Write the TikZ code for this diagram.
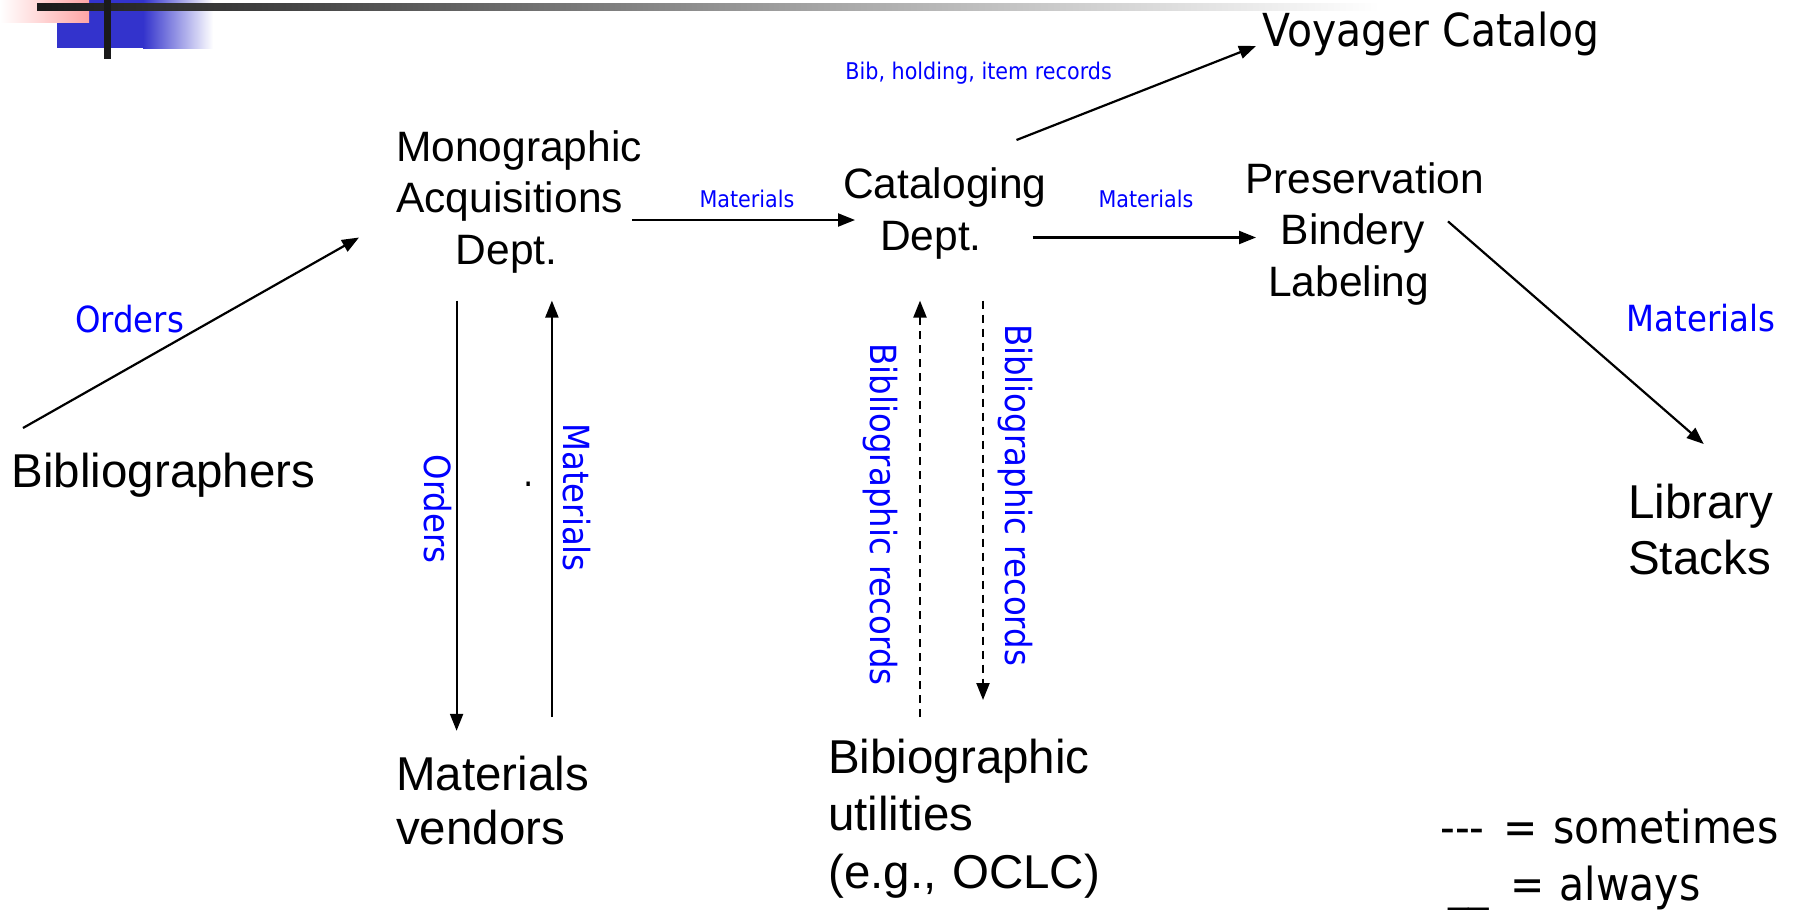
\documentclass[tikz,border=0pt]{standalone}
\usepackage{fontspec}
\setmainfont{Liberation Sans}
\newfontfamily\tah[FakeStretch=0.9]{DejaVu Sans}
\usetikzlibrary{arrows.meta}
\definecolor{lblue}{RGB}{0,0,255}
\definecolor{barblue}{RGB}{51,51,204}
\definecolor{pinkc}{RGB}{255,165,165}
\definecolor{bardark}{RGB}{26,26,26}
\definecolor{barmid}{RGB}{70,70,70}
\definecolor{barlight}{RGB}{165,165,165}
\tikzset{
  big/.style={font=\fontsize{42.5}{51.6}\selectfont, inner sep=0pt, align=left},
  bigger/.style={font=\fontsize{47.5}{56}\selectfont, inner sep=0pt, align=left},
  tahbig/.style={font=\tah\fontsize{45.5}{57}\selectfont, inner sep=0pt},
  lbl/.style={text=lblue, font=\tah\fontsize{36}{40}\selectfont, inner sep=0pt},
  slbl/.style={text=lblue, font=\tah\fontsize{23}{26}\selectfont, inner sep=0pt},
  arr/.style={line width=2.2pt, -{Triangle[length=17pt,width=13pt]}},
  dsh/.style={arr, dash pattern=on 8pt off 6pt}
}
\begin{document}
\begin{tikzpicture}[x=1pt,y=-1pt]
\useasboundingbox (0,0) rectangle (1799,910);
% top-left decoration
\fill[barblue] (57,0) rectangle (143,48);
\shade[left color=barblue, right color=white] (143,0) rectangle (213,48);
\shade[left color=white, right color=pinkc] (0,0) rectangle (89,22);
\shade[left color=bardark, right color=barmid] (37,3) rectangle (300,10);
\shade[left color=barmid, right color=barlight] (300,3) rectangle (820,10);
\shade[left color=barlight, right color=white] (820,3) rectangle (1380,10);
\fill[bardark] (104,0) rectangle (111,59);

% main nodes
\node[bigger, anchor=base west] (bib) at (11.5,487.6) {Bibliographers};
\node[big, text width=260pt, anchor=base west] (mad) at (396,161) {Monographic\\Acquisitions\\\hspace*{59.5pt}Dept.};
\node[big, text width=220pt, anchor=base west] (cat) at (843,198.5) {Cataloging\\\hspace*{37pt}Dept.};
\node[big, text width=250pt, anchor=base west] (pres) at (1245,193) {Preservation\\\hspace*{35.6pt}Bindery\\\hspace*{23pt}Labeling};
\node[tahbig, anchor=base west] (voy) at (1262,46) {Voyager Catalog};
\node[bigger, text width=160pt, anchor=base west] (lib) at (1628,518.6) {Library\\Stacks};
\node[bigger, font=\fontsize{47.5}{54}\selectfont, text width=200pt, anchor=base west] (mv) at (396,790.5) {Materials\\vendors};
\node[bigger, font=\fontsize{47.5}{57.5}\selectfont, text width=290pt, anchor=base west] (bu) at (828,773) {Bibiographic\\utilities\\(e.g., OCLC)};
\node[tahbig, text width=355pt, align=left, anchor=base west] (leg) at (1440,843) {{-}{-}{-}\hspace{4pt} = sometimes\\\hspace*{8pt}\_\_\hspace{6pt} = always};

% connector end points
\coordinate (bibS) at (23,428);
\coordinate (madW) at (359,237.5);
\coordinate (madE) at (632,220);
\coordinate (catW) at (855,220);
\coordinate (catE) at (1032.6,237.5);
\coordinate (presW) at (1256,237.5);
\coordinate (catNE) at (1016.5,140);
\coordinate (voyW) at (1256,46);
\coordinate (presE) at (1448,221.4);
\coordinate (libN) at (1703.7,444);
\coordinate (madS1) at (456.6,300.6);
\coordinate (mvN1) at (456.6,730.8);
\coordinate (mvN2) at (551.9,717);
\coordinate (madS2) at (551.9,300.6);
\coordinate (buN1) at (920,717);
\coordinate (catS1) at (920,300.6);
\coordinate (catS2) at (983,300.6);
\coordinate (buN2) at (983,700);

% connectors
\draw[arr] (bibS) -- (madW);
\draw[arr] (madE) -- (catW);
\draw[arr] (catE) -- (presW);
\draw[arr] (catNE) -- (voyW);
\draw[arr] (presE) -- (libN);
\draw[arr] (madS1) -- (mvN1);
\draw[arr] (mvN2) -- (madS2);
\draw[dsh] (buN1) -- (catS1);
\draw[dsh] (catS2) -- (buN2);

% labels
\node[lbl, anchor=base] (lOrd) at (129.6,332) {Orders};
\node[slbl, anchor=base] (lMat1) at (747,207.7) {Materials};
\node[slbl, anchor=base] (lMat2) at (1146,207.7) {Materials};
\node[slbl, anchor=base] (lBib) at (978.6,79) {Bib, holding, item records};
\node[lbl, anchor=base] (lMat3) at (1701,331.6) {Materials};
\node[lbl, rotate=-90] (lOrdV) at (438,509) {Orders};
\node[lbl, rotate=-90] (lMatV) at (577,497.5) {Materials};
\node[lbl, rotate=-90] (lBibL) at (880,514.6) {Bibliographic records};
\node[lbl, rotate=-90] (lBibR) at (1015,495) {Bibliographic records};
\node[lbl, text=black, anchor=base] (dot) at (529,486) {.};
\end{tikzpicture}
\end{document}
